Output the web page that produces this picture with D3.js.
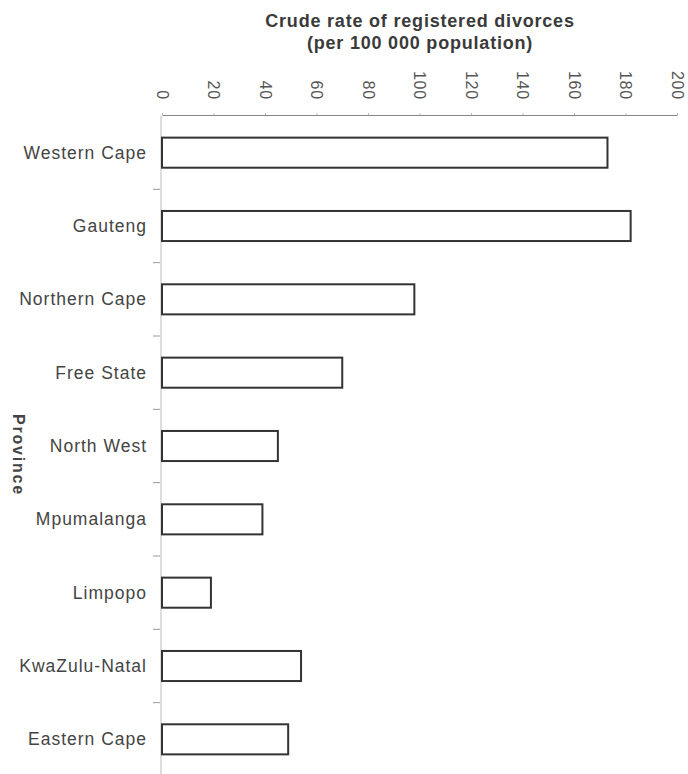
<!DOCTYPE html>
<html>
<head>
<meta charset="utf-8">
<script src="https://cdn.jsdelivr.net/npm/d3@7"></script>
<style>
  html, body { margin: 0; padding: 0; background: #fff; }
  svg { display: block; font-family: "Liberation Sans", Arial, Helvetica, sans-serif; }
</style>
</head>
<body>
<svg id="chart" width="688" height="774"></svg>
<script>
const provinces = ["Western Cape", "Gauteng", "Northern Cape", "Free State", "North West",
                   "Mpumalanga", "Limpopo", "KwaZulu-Natal", "Eastern Cape"];
const divorceRates = [173, 182, 98, 70, 45, 39, 19, 54, 49];
const xTickValues = [0, 20, 40, 60, 80, 100, 120, 140, 160, 180, 200];
const titleLines = ["Crude rate of registered divorces", "(per 100 000 population)"];
const yAxisTitle = "Province";

const data = provinces.map((p, i) => ({ province: p, value: divorceRates[i] }));

const svg = d3.select("#chart");

const x = d3.scaleLinear().domain([0, 200]).range([162, 677]);
const y = d3.scaleBand().domain(provinces).range([116, 776])
  .paddingInner(0.59).paddingOuter(0.295);

// Title
svg.append("g").selectAll("text").data(titleLines).join("text")
  .attr("x", 420)
  .attr("y", (d, i) => 27 + i * 22)
  .attr("text-anchor", "middle")
  .attr("font-size", 18)
  .attr("font-weight", "bold")
  .attr("letter-spacing", 0.8)
  .attr("fill", "#3a3a3a")
  .text(d => d);

// Top axis
const xAxis = svg.append("g")
  .attr("transform", "translate(0,115)")
  .call(d3.axisTop(x).tickValues(xTickValues).tickSize(2).tickSizeOuter(0).tickPadding(15));
xAxis.select(".domain").attr("stroke", "#888").attr("stroke-width", 1);
xAxis.selectAll(".tick line").attr("stroke", "#bbb");
xAxis.selectAll(".tick text")
  .attr("transform", "rotate(90)")
  .attr("x", -15)
  .attr("y", 0)
  .attr("dy", "0.35em")
  .attr("text-anchor", "end")
  .attr("font-size", 16)
  .attr("letter-spacing", 0.8)
  .attr("fill", "#555");

// Left axis line
svg.append("line")
  .attr("x1", x(0) - 1).attr("x2", x(0) - 1)
  .attr("y1", y.range()[0]).attr("y2", y.range()[1])
  .attr("stroke", "#bbb").attr("stroke-width", 1);

// Boundary ticks between categories
const gap = y.step() - y.bandwidth();
svg.append("g").selectAll("line").data(provinces.slice(1)).join("line")
  .attr("x1", x(0) - 9).attr("x2", x(0) - 2)
  .attr("y1", d => y(d) - gap / 2).attr("y2", d => y(d) - gap / 2)
  .attr("stroke", "#999").attr("stroke-width", 1);

// Category labels
svg.append("g").selectAll("text").data(provinces).join("text")
  .attr("x", 147)
  .attr("y", d => y(d) + y.bandwidth() / 2)
  .attr("dy", "0.35em")
  .attr("text-anchor", "end")
  .attr("font-size", 17.5)
  .attr("letter-spacing", 1.0)
  .attr("fill", "#444")
  .text(d => d);

// Bars
svg.append("g").selectAll("rect").data(data).join("rect")
  .attr("x", x(0))
  .attr("y", d => y(d.province))
  .attr("width", d => x(d.value) - x(0))
  .attr("height", y.bandwidth())
  .attr("fill", "#fff")
  .attr("stroke", "#333")
  .attr("stroke-width", 2);

// Y axis title
svg.append("text")
  .attr("transform", "translate(13,455) rotate(90)")
  .attr("text-anchor", "middle")
  .attr("font-size", 16)
  .attr("font-weight", "bold")
  .attr("letter-spacing", 1.8)
  .attr("fill", "#444")
  .text(yAxisTitle);
</script>
</body>
</html>
